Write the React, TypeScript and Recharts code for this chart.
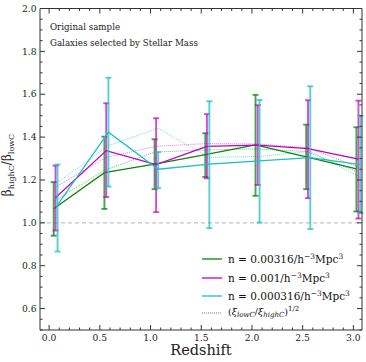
import React from 'react';
import { ComposedChart, Line, XAxis, YAxis, ErrorBar, ReferenceLine, Legend, Customized } from 'recharts';

// Redshift positions (each sample is slightly offset)
const zGreen = [0.045, 0.545, 1.04, 1.54, 2.035, 2.535, 3.03];
const zMagenta = [0.063, 0.563, 1.055, 1.556, 2.057, 2.553, 3.05];
const zCyan = [0.083, 0.585, 1.075, 1.58, 2.075, 2.575, 3.07];

// beta_highC / beta_lowC and error bounds
const ratioGreen = [1.066, 1.234, 1.274, 1.318, 1.364, 1.308, 1.252];
const lowGreen = [0.94, 1.065, 1.157, 1.214, 1.126, 1.157, 1.053];
const highGreen = [1.19, 1.402, 1.39, 1.418, 1.597, 1.458, 1.446];

const ratioMagenta = [1.117, 1.337, 1.272, 1.357, 1.363, 1.346, 1.297];
const lowMagenta = [0.964, 1.12, 1.05, 1.208, 1.177, 1.115, 1.02];
const highMagenta = [1.267, 1.558, 1.488, 1.507, 1.549, 1.572, 1.57];

const ratioCyan = [1.084, 1.423, 1.25, 1.274, 1.289, 1.304, 1.272];
const lowCyan = [0.866, 1.169, 1.162, 0.975, 1.001, 0.971, 1.045];
const highCyan = [1.272, 1.677, 1.33, 1.567, 1.573, 1.637, 1.499];

// (xi_lowC / xi_highC)^(1/2)
const xiGreen = [1.1, 1.245, 1.33, 1.34, 1.345, 1.333, 1.24];
const xiMagenta = [1.167, 1.305, 1.357, 1.37, 1.368, 1.35, 1.26];
const xiCyan = [1.188, 1.36, 1.441, 1.305, 1.31, 1.333, 1.213];

// ticks
const xMajorTicks = [0.0, 0.5, 1.0, 1.5, 2.0, 2.5, 3.0];
const xAllTicks = [0.0, 0.1, 0.2, 0.3, 0.4, 0.5, 0.6, 0.7, 0.8, 0.9, 1.0, 1.1, 1.2, 1.3, 1.4, 1.5, 1.6, 1.7, 1.8, 1.9, 2.0, 2.1, 2.2, 2.3, 2.4, 2.5, 2.6, 2.7, 2.8, 2.9, 3.0];
const yMajorTicks = [0.6, 0.8, 1.0, 1.2, 1.4, 1.6, 1.8, 2.0];
const yAllTicks = [0.5, 0.55, 0.6, 0.65, 0.7, 0.75, 0.8, 0.85, 0.9, 0.95, 1.0, 1.05, 1.1, 1.15, 1.2, 1.25, 1.3, 1.35, 1.4, 1.45, 1.5, 1.55, 1.6, 1.65, 1.7, 1.75, 1.8, 1.85, 1.9, 1.95, 2.0];

const legendLabels = ['0.00316', '0.001', '0.000316'];

const GREEN = '#0d840d';
const MAGENTA = '#c000c0';
const CYAN = '#1cc2c2';
const FONT = 'DejaVu Serif, serif';
const AX = '#333';

const build = (z: number[], r: number[], lo?: number[], hi?: number[]) =>
  z.map((x, i) => ({ x, y: r[i], err: lo && hi ? [r[i] - lo[i], hi[i] - r[i]] : undefined }));

const dGreen = build(zGreen, ratioGreen, lowGreen, highGreen);
const dMagenta = build(zMagenta, ratioMagenta, lowMagenta, highMagenta);
const dCyan = build(zCyan, ratioCyan, lowCyan, highCyan);
const xGreen = build(zGreen, xiGreen);
const xMagenta = build(zMagenta, xiMagenta);
const xCyan = build(zCyan, xiCyan);

const isMajor = (v: number, list: number[]) => list.some((m) => Math.abs(m - v) < 1e-6);

const BottomTick = (p: any) => {
  const { x, y, payload } = p;
  const major = isMajor(payload.value, xMajorTicks);
  return (
    <g>
      <line x1={x} x2={x} y1={y} y2={y - (major ? 5 : 2.5)} stroke={AX} strokeWidth={1} />
      {major && (
        <text x={x} y={y + 10.5} textAnchor="middle" fontSize={9.2} fontFamily={FONT} fill="#222">
          {payload.value.toFixed(1)}
        </text>
      )}
    </g>
  );
};
const TopTick = (p: any) => {
  const { x, y, payload } = p;
  const major = isMajor(payload.value, xMajorTicks);
  return <line x1={x} x2={x} y1={y} y2={y + (major ? 5 : 2.5)} stroke={AX} strokeWidth={1} />;
};
const LeftTick = (p: any) => {
  const { x, y, payload } = p;
  const major = isMajor(payload.value, yMajorTicks);
  return (
    <g>
      <line x1={x} x2={x + (major ? 5 : 2.5)} y1={y} y2={y} stroke={AX} strokeWidth={1} />
      {major && (
        <text x={x - 3.5} y={y + 3.2} textAnchor="end" fontSize={9.2} fontFamily={FONT} fill="#222">
          {payload.value.toFixed(1)}
        </text>
      )}
    </g>
  );
};
const RightTick = (p: any) => {
  const { x, y, payload } = p;
  const major = isMajor(payload.value, yMajorTicks);
  return <line x1={x} x2={x - (major ? 5 : 2.5)} y1={y} y2={y} stroke={AX} strokeWidth={1} />;
};

const Annotations = () => (
  <g fontFamily={FONT} fill="#222">
    <text x={50} y={29.5} fontSize={8.7}>Original sample</text>
    <text x={50} y={46} fontSize={8.7}>Galaxies selected by Stellar Mass</text>
    <text x={201} y={355} fontSize={14.5} textAnchor="middle">Redshift</text>
    <text transform="translate(11,165) rotate(-90)" textAnchor="middle" fontSize={12}>
      β<tspan fontSize={8} dy={2.5}>highC</tspan>
      <tspan dy={-2.5}>/β</tspan>
      <tspan fontSize={8} dy={2.5}>lowC</tspan>
    </text>
  </g>
);

const rowStyle: React.CSSProperties = {
  display: 'flex',
  alignItems: 'center',
  height: 18.4,
  whiteSpace: 'nowrap',
};

const LegendBox = () => {
  const colors = [GREEN, MAGENTA, CYAN];
  return (
    <div style={{ fontFamily: FONT, fontSize: 10.5, color: '#111', lineHeight: 1 }}>
      {legendLabels.map((lab, i) => (
        <div key={lab} style={rowStyle}>
          <svg width={20} height={4} style={{ marginRight: 6 }}>
            <line x1={0} x2={20} y1={2} y2={2} stroke={colors[i]} strokeWidth={1.3} />
          </svg>
          <span>
            n = {lab}/h<sup style={{ fontSize: 7.5, verticalAlign: 4 }}>−3</sup>Mpc
            <sup style={{ fontSize: 7.5, verticalAlign: 4 }}>3</sup>
          </span>
        </div>
      ))}
      <div style={{ ...rowStyle, height: 15, fontSize: 9.5 }}>
        <svg width={20} height={4} style={{ marginRight: 6 }}>
          <line x1={0} x2={20} y1={2} y2={2} stroke="#555" strokeWidth={0.8} strokeDasharray="1 1" />
        </svg>
        <span>
          (<i>ξ</i>
          <sub style={{ fontSize: 7, fontStyle: 'italic', verticalAlign: -2 }}>lowC</sub>/<i>ξ</i>
          <sub style={{ fontSize: 7, fontStyle: 'italic', verticalAlign: -2 }}>highC</sub>)
          <sup style={{ fontSize: 7, verticalAlign: 4 }}>1/2</sup>
        </span>
      </div>
    </div>
  );
};

const errProps = { width: 3, strokeWidth: 1.9, direction: 'y' as const };

export default function App() {
  return (
    <div style={{ position: 'absolute', left: 0, top: 0, width: 366, height: 362, background: '#fff' }}>
      <ComposedChart width={366} height={362} margin={{ top: 7.5, right: 3, bottom: 31, left: 39 }}>
        <XAxis
          xAxisId={0}
          type="number"
          dataKey="x"
          domain={[-0.09, 3.085]}
          allowDataOverflow
          ticks={xAllTicks}
          interval={0}
          height={1}
          tickSize={0}
          tickMargin={0}
          tickLine={false}
          tick={<BottomTick />}
          axisLine={{ stroke: AX, strokeWidth: 1 }}
        />
        <XAxis
          xAxisId="top"
          orientation="top"
          type="number"
          dataKey="x"
          domain={[-0.09, 3.085]}
          allowDataOverflow
          ticks={xAllTicks}
          interval={0}
          height={1}
          tickSize={0}
          tickMargin={0}
          tickLine={false}
          tick={<TopTick />}
          axisLine={{ stroke: AX, strokeWidth: 1 }}
        />
        <YAxis
          yAxisId={0}
          type="number"
          domain={[0.5, 2.0]}
          allowDataOverflow
          ticks={yAllTicks}
          interval={0}
          width={1}
          tickSize={0}
          tickMargin={0}
          tickLine={false}
          tick={<LeftTick />}
          axisLine={{ stroke: AX, strokeWidth: 1 }}
        />
        <YAxis
          yAxisId="right"
          orientation="right"
          type="number"
          domain={[0.5, 2.0]}
          allowDataOverflow
          ticks={yAllTicks}
          interval={0}
          width={1}
          tickSize={0}
          tickMargin={0}
          tickLine={false}
          tick={<RightTick />}
          axisLine={{ stroke: AX, strokeWidth: 1 }}
        />
        <ReferenceLine y={1} stroke="#c4c4c4" strokeWidth={1.3} strokeDasharray="4 3" />

        <Line data={xGreen} dataKey="y" stroke={GREEN} strokeOpacity={0.55} strokeWidth={1} strokeDasharray="1 1" dot={false} activeDot={false} isAnimationActive={false} legendType="none" />
        <Line data={xMagenta} dataKey="y" stroke={MAGENTA} strokeOpacity={0.5} strokeWidth={1} strokeDasharray="1 1" dot={false} activeDot={false} isAnimationActive={false} legendType="none" />
        <Line data={xCyan} dataKey="y" stroke={CYAN} strokeOpacity={0.6} strokeWidth={1} strokeDasharray="1 1" dot={false} activeDot={false} isAnimationActive={false} legendType="none" />

        <Line data={dGreen} dataKey="y" stroke={GREEN} strokeWidth={1.3} dot={false} activeDot={false} isAnimationActive={false}>
          <ErrorBar dataKey="err" stroke={GREEN} strokeOpacity={0.75} {...errProps} isAnimationActive={false} />
        </Line>
        <Line data={dMagenta} dataKey="y" stroke={MAGENTA} strokeWidth={1.3} dot={false} activeDot={false} isAnimationActive={false}>
          <ErrorBar dataKey="err" stroke={MAGENTA} strokeOpacity={0.7} {...errProps} isAnimationActive={false} />
        </Line>
        <Line data={dCyan} dataKey="y" stroke={CYAN} strokeWidth={1.3} dot={false} activeDot={false} isAnimationActive={false}>
          <ErrorBar dataKey="err" stroke={CYAN} strokeOpacity={0.75} {...errProps} isAnimationActive={false} />
        </Line>

        <Customized component={Annotations} />
        <Legend
          layout="vertical"
          align="center"
          verticalAlign="middle"
          wrapperStyle={{ left: 202, top: 250, width: 164, height: 72 }}
          content={() => <LegendBox />}
        />
      </ComposedChart>
    </div>
  );
}
